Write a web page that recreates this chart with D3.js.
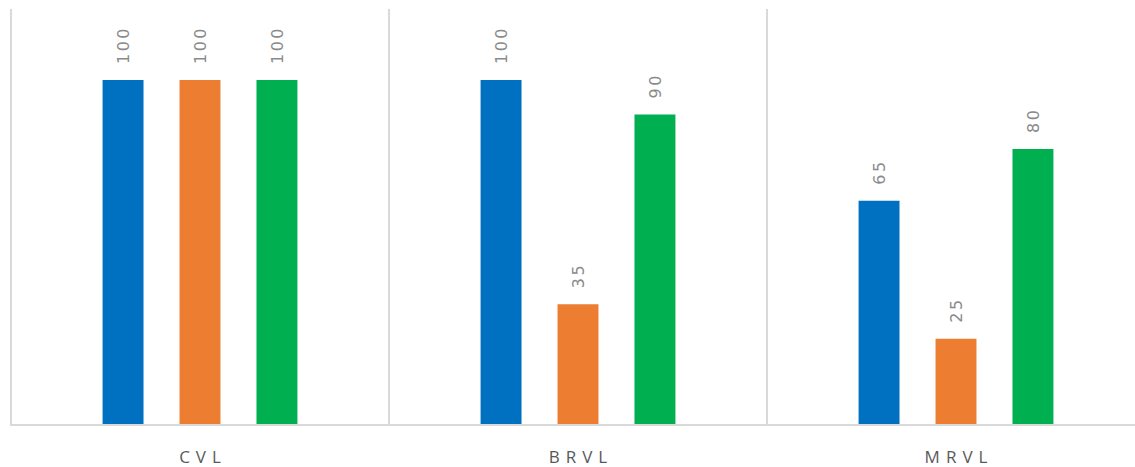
<!DOCTYPE html>
<html lang="en">
	<head>
		<meta charset="UTF-8" />
		<title>VL chart</title>
		<script src="https://d3js.org/d3.v7.min.js"></script>
		<style>
			body { margin: 0; background: #fff; }
			svg { display: block; }
			.value { font-family: 'DejaVu Sans', sans-serif; font-size: 16px; fill: #8a8a8a; letter-spacing: 2.5px; }
			.cat { font-family: 'Open Sans', sans-serif; font-size: 17px; fill: #595959; letter-spacing: 6px; }
		</style>
	</head>
	<body>
		<svg width="1135" height="467"></svg>
		<script>
			const categories = ['CVL', 'BRVL', 'MRVL'];
			const series = ['s1', 's2', 's3'];
			const values = {
				s1: [100, 100, 65],
				s2: [100, 35, 25],
				s3: [100, 90, 80]
			};
			const colors = ['#0070c0', '#ed7d31', '#00b050'];

			const svg = d3.select('svg');
			const plotLeft = 11, plotRight = 1145, plotTop = 11, plotBottom = 425;

			const x = d3.scaleBand().domain(categories).range([plotLeft, plotRight]);
			const inner = d3.scaleBand().domain(series).range([0, x.bandwidth()]).paddingInner(0.468).paddingOuter(1.19);
			const y = d3.scaleLinear().domain([0, 120]).range([plotBottom, plotTop]);

			// separators
			svg.append('g')
				.selectAll('line')
				.data(categories)
				.join('line')
				.attr('x1', (d) => x(d))
				.attr('x2', (d) => x(d))
				.attr('y1', 9)
				.attr('y2', plotBottom)
				.attr('stroke', '#d9d9d9')
				.attr('stroke-width', 2);
			svg.append('line')
				.attr('x1', plotLeft - 1)
				.attr('x2', 1135)
				.attr('y1', plotBottom)
				.attr('y2', plotBottom)
				.attr('stroke', '#d9d9d9')
				.attr('stroke-width', 2);

			const rows = [];
			categories.forEach((c, i) => {
				series.forEach((s, j) => rows.push({ c, s, v: values[s][i], color: colors[j] }));
			});

			// bars
			svg.append('g')
				.selectAll('rect')
				.data(rows)
				.join('rect')
				.attr('x', (d) => x(d.c) + inner(d.s))
				.attr('y', (d) => y(d.v))
				.attr('width', inner.bandwidth())
				.attr('height', (d) => plotBottom - 1 - y(d.v))
				.attr('fill', (d) => d.color);

			// value labels
			svg.append('g')
				.selectAll('text')
				.data(rows)
				.join('text')
				.attr('class', 'value')
				.attr('transform', (d) => {
					const cx = x(d.c) + inner(d.s) + inner.bandwidth() / 2 + 6;
					return `translate(${cx},${y(d.v) - 16}) rotate(-90)`;
				})
				.text((d) => d.v);

			// category labels
			svg.append('g')
				.selectAll('text')
				.data(categories)
				.join('text')
				.attr('class', 'cat')
				.attr('x', (d) => x(d) + x.bandwidth() / 2 + 3)
				.attr('y', 463)
				.attr('text-anchor', 'middle')
				.text((d) => d);
		</script>
	</body>
</html>
